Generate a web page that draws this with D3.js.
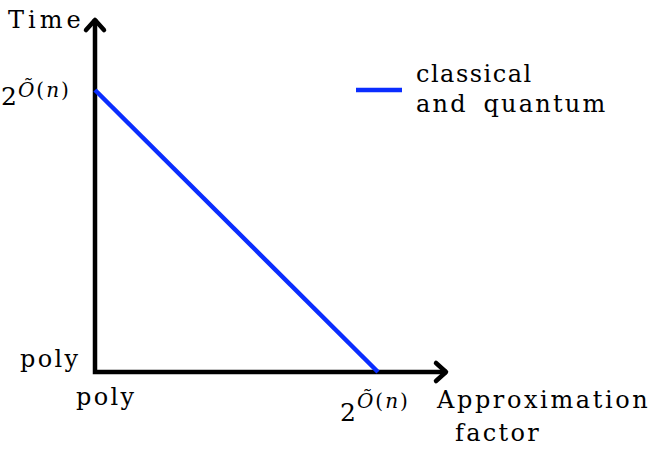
<!DOCTYPE html>
<meta charset="utf-8">
<script src="https://d3js.org/d3.v7.min.js"></script>
<style>
  body { margin: 0; background: #fff; }
  text { font-family: "DejaVu Serif", "Liberation Serif", serif; fill: #000; }
</style>
<div id="chart"></div>
<script>
// data
var xTicks = [{v: 0, label: "poly"}, {v: 1, label: "exp"}];
var yTicks = [{v: 0, label: "poly"}, {v: 1, label: "exp"}];
var seriesX = [0, 1];
var seriesY = [1, 0];
var seriesName = ["classical", "and quantum"];

var width = 654, height = 463;

var svg = d3.select("#chart").append("svg")
  .attr("width", width)
  .attr("height", height);

var x = d3.scaleLinear().domain([0, 1]).range([95, 378]);
var y = d3.scaleLinear().domain([0, 1]).range([372, 90]);

var x0 = x(0), y0 = y(0);
var xEnd = 447, yEnd = 19;

// axes
svg.append("path")
  .attr("d", "M" + x0 + "," + yEnd + "V" + y0 + "H" + xEnd)
  .attr("fill", "none")
  .attr("stroke", "#000")
  .attr("stroke-width", 4.5)
  .attr("stroke-linejoin", "miter");

// arrow heads
svg.append("path")
  .attr("d", "M" + (x0 - 9) + "," + (yEnd + 11) + "L" + x0 + "," + (yEnd + 1) + "L" + (x0 + 9) + "," + (yEnd + 11))
  .attr("fill", "none").attr("stroke", "#000").attr("stroke-width", 4.5)
  .attr("stroke-linecap", "round").attr("stroke-linejoin", "round");
svg.append("path")
  .attr("d", "M" + (xEnd - 11) + "," + (y0 - 9) + "L" + (xEnd - 1) + "," + y0 + "L" + (xEnd - 11) + "," + (y0 + 9))
  .attr("fill", "none").attr("stroke", "#000").attr("stroke-width", 4.5)
  .attr("stroke-linecap", "round").attr("stroke-linejoin", "round");

// series line
var line = d3.line()
  .x(function(d) { return x(d[0]); })
  .y(function(d) { return y(d[1]); });

svg.append("path")
  .datum(d3.zip(seriesX, seriesY))
  .attr("d", line)
  .attr("fill", "none")
  .attr("stroke", "#0a2dff")
  .attr("stroke-width", 4.5);

// helper for 2^{Õ(n)}
function expLabel(sel, px, py, sup) {
  var t = sel.append("text").attr("x", px).attr("y", py).style("font-size", "25px");
  t.append("tspan").text("2");
  t.append("tspan").attr("dy", -sup).attr("dx", 1).style("font-size", "20px")
    .style("font-style", "italic").style("letter-spacing", "2px").text("Õ");
  t.append("tspan").style("font-size", "20px").style("letter-spacing", "2px").text("(");
  t.append("tspan").style("font-size", "20px").style("letter-spacing", "2px").style("font-style", "italic").text("n");
  t.append("tspan").style("font-size", "20px").text(")");
}

function label(px, py, s) {
  return svg.append("text").attr("x", px).attr("y", py)
    .style("font-size", "24px").style("letter-spacing", "2.3px")
    .style("word-spacing", "4px").text(s);
}

// x tick labels
xTicks.forEach(function(d) {
  if (d.label === "poly") label(x(d.v) - 19, 405, "poly");
  else expLabel(svg, x(d.v) - 38, 421, 13);
});

// y tick labels
yTicks.forEach(function(d) {
  if (d.label === "poly") label(20, y(d.v) - 5, "poly");
  else expLabel(svg, 1, y(d.v) + 15, 8);
});

// axis titles
label(8, 28, "Time").style("letter-spacing", "4px");
label(437, 408, "Approximation").style("letter-spacing", "2.6px");
label(455, 441, "factor");

// legend
svg.append("line")
  .attr("x1", 356).attr("x2", 402).attr("y1", 90).attr("y2", 90)
  .attr("stroke", "#0a2dff").attr("stroke-width", 4.5);
svg.selectAll(".leg").data(seriesName).enter().append("text")
  .attr("class", "leg")
  .attr("x", 416)
  .attr("y", function(d, i) { return 82 + i * 30; })
  .style("font-size", "24px")
  .style("letter-spacing", function(d, i) { return i ? "2.2px" : "1.5px"; })
  .style("word-spacing", "6px")
  .text(function(d) { return d; });
</script>
